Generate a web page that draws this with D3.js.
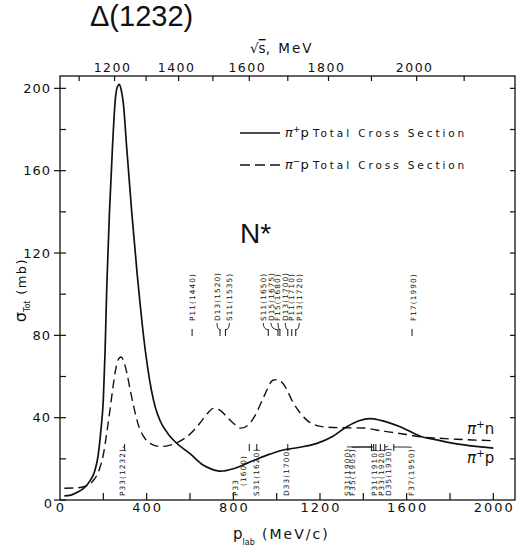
<!DOCTYPE html>
<html>
<head>
<meta charset="utf-8">
<script src="https://cdn.jsdelivr.net/npm/d3@7"></script>
<style>
  body { margin: 0; background: #fff; }
  text { font-family: "DejaVu Sans", sans-serif; fill: #111; }
</style>
</head>
<body>
<div id="chart"></div>
<script>
(function () {

  // pi+ p total cross section (mb) vs p_lab (MeV/c)
  const piPlusP = [
    [20, 2], [50, 2.4], [80, 3.8], [110, 5.8], [140, 9.5], [160, 14], [175, 21],
    [188, 33], [200, 49], [208, 72], [216, 104], [228, 139], [242, 171], [254, 193],
    [264, 200.5], [274, 202], [283, 199], [293, 192], [308, 171], [331, 140], [356, 110],
    [370, 95], [384, 81], [405, 64], [440, 45], [462, 38.5], [500, 32], [531, 28.3],
    [600, 22.5], [660, 17], [700, 15], [740, 14], [800, 15.2], [862, 17.8], [955, 21.8],
    [1031, 24.3], [1100, 25.5], [1186, 27.5], [1260, 31], [1324, 35.6], [1380, 38.5],
    [1432, 39.5], [1480, 38.7], [1570, 35.6], [1663, 31], [1750, 29], [1817, 27.5],
    [1900, 26.3], [2000, 25.2]
  ]

  // pi- p total cross section (dashed)
  const piMinusP = [
    [20, 5.7], [60, 5.8], [100, 6.2], [125, 7], [150, 9], [170, 12], [185, 16],
    [200, 22], [215, 32], [231, 44], [246, 56], [258, 64], [270, 68.5], [282, 69.5],
    [292, 68], [308, 62], [325, 53], [339, 46], [360, 37], [385, 31], [420, 27.3],
    [462, 26], [500, 26.4], [539, 27.8], [600, 32], [647, 37.5], [680, 42], [708, 44.5],
    [740, 43.5], [770, 40.4], [800, 37.3], [835, 34.9], [870, 36.6], [900, 41],
    [940, 50], [985, 58.3], [1005, 58.5], [1030, 56.5], [1078, 47], [1139, 38.8],
    [1190, 36], [1232, 35.4], [1320, 35.1], [1401, 35], [1460, 34], [1524, 33],
    [1600, 31.8], [1663, 30.7], [1750, 30], [1832, 29.5], [1920, 29.1], [2000, 28.8]
  ]

  // axis ticks
  const yTicks = d3.range(0, 201, 20)
  const yLabels = [0, 40, 80, 120, 160, 200]
  const xTicks = d3.range(200, 2001, 200)
  const xLabels = [0, 400, 800, 1200, 1600, 2000]
  const topTicks = d3.range(1100, 2101, 100)
  const topLabels = [1200, 1400, 1600, 1800, 2000]

  // resonances (name, mass in MeV)
  const upperRes = [
    ["P11(1440)", 1440], ["D13(1520)", 1520], ["S11(1535)", 1535],
    ["S11(1650)", 1650], ["D15(1675)", 1675], ["F15(1680)", 1680],
    ["D13(1700)", 1700], ["P11(1710)", 1710], ["P13(1720)", 1720],
    ["F17(1990)", 1990]
  ]
  const lowerRes = [
    ["P33(1232)", 1232], ["P33 (1600)", 1600], ["S31(1620)", 1620],
    ["D33(1700)", 1700], ["S31(1900)", 1900], ["F35(1905)", 1905],
    ["P31(1910)", 1910], ["P33(1920)", 1920], ["D35(1930)", 1930],
    ["F37(1950)", 1950]
  ]
  // label offsets from their tick, px (layout only)
  const upperShift = [0, -3, 4, -5, -7, -2, -2.5, 0, 3.5, 1]
  const lowerShift = [-2, -13.5, 0, -1.5, -24.5, -21.7, -1.5, 1, 3.5, 18]

  const width = 520
  const height = 548
  const left = 60, right = 515, top = 76, bottom = 500

  const svg = d3.select("#chart").append("svg")
      .attr("width", width)
      .attr("height", height)

  const x = d3.scaleLinear().domain([0, 2100]).range([left, right])
  const y = d3.scaleLinear().domain([0, 206]).range([bottom, top])

  // sqrt(s) -> p_lab for pi N
  const mp = 938.27, mpi = 139.57
  function plab(W) {
    const E = (W * W - mp * mp - mpi * mpi) / (2 * mp)
    return Math.sqrt(E * E - mpi * mpi)
  }

  const ink = "#111"

  // frame
  svg.append("rect")
      .attr("x", left).attr("y", top)
      .attr("width", right - left).attr("height", bottom - top)
      .attr("fill", "none").attr("stroke", ink).attr("stroke-width", 1.3)

  // left ticks
  svg.selectAll(".yt").data(yTicks).join("line")
      .attr("x1", d => d % 40 === 0 ? left - 6 : left)
      .attr("x2", left + 6)
      .attr("y1", d => y(d)).attr("y2", d => y(d))
      .attr("stroke", ink).attr("stroke-width", 1.2)

  svg.selectAll(".yl").data(yLabels).join("text")
      .attr("x", d => d === 0 ? 53 : 51)
      .attr("y", d => y(d) + (d === 0 ? 3 : 0))
      .attr("dy", "0.36em")
      .attr("text-anchor", "end")
      .style("font-size", "13px")
      .style("letter-spacing", "1px")
      .text(d => d)

  // right ticks
  svg.selectAll(".rt").data(yTicks.filter(d => d > 0)).join("line")
      .attr("x1", right - 5).attr("x2", right)
      .attr("y1", d => y(d)).attr("y2", d => y(d))
      .attr("stroke", ink).attr("stroke-width", 1.2)

  // bottom ticks
  svg.selectAll(".xt").data(xTicks).join("line")
      .attr("x1", d => x(d)).attr("x2", d => x(d))
      .attr("y1", bottom - 7).attr("y2", bottom)
      .attr("stroke", ink).attr("stroke-width", 1.2)

  svg.selectAll(".xl").data(xLabels).join("text")
      .attr("x", d => x(d) + 1)
      .attr("y", 512)
      .attr("text-anchor", "middle")
      .style("font-size", "13px")
      .style("letter-spacing", "2px")
      .text(d => d)

  // top axis: sqrt(s)
  svg.selectAll(".tt").data(topTicks).join("line")
      .attr("x1", d => x(plab(d))).attr("x2", d => x(plab(d)))
      .attr("y1", top).attr("y2", top + 5)
      .attr("stroke", ink).attr("stroke-width", 1.2)

  svg.selectAll(".tl").data(topLabels).join("text")
      .attr("x", d => x(plab(d)) - 2)
      .attr("y", 72)
      .attr("text-anchor", "middle")
      .style("font-size", "12.5px")
      .style("letter-spacing", "1.5px")
      .text(d => d)

  const sq = svg.append("text").attr("x", 250).attr("y", 53).style("font-size", "13.5px")
  sq.append("tspan").text("\u221A")
  sq.append("tspan").style("text-decoration", "overline").text("s")
  sq.append("tspan").style("letter-spacing", "2px").text(",  MeV")

  // axis titles
  const yt = svg.append("text")
      .attr("transform", "translate(26,290) rotate(-90)")
      .attr("text-anchor", "middle")
  yt.append("tspan").style("font-size", "16px").text("\u03C3")
  yt.append("tspan").attr("dy", 4).style("font-size", "8px").text("Tot")
  yt.append("tspan").attr("dy", -4).style("font-size", "13px")
      .style("letter-spacing", "1.5px").text(" (mb)")

  const xt = svg.append("text").attr("x", 233).attr("y", 539)
  xt.append("tspan").style("font-size", "15px").text("p")
  xt.append("tspan").attr("dy", 6).style("font-size", "8px").text("lab")
  xt.append("tspan").attr("x", 262).attr("dy", -6).style("font-size", "14px")
      .style("letter-spacing", "2px").text("(MeV/c)")

  // curves
  const line = d3.line()
      .x(d => x(d[0]))
      .y(d => y(d[1]))
      .curve(d3.curveMonotoneX)

  svg.append("path").datum(piMinusP)
      .attr("d", line)
      .attr("fill", "none").attr("stroke", ink)
      .attr("stroke-width", 1.4).attr("stroke-dasharray", "9,5")

  svg.append("path").datum(piPlusP)
      .attr("d", line)
      .attr("fill", "none").attr("stroke", ink)
      .attr("stroke-width", 1.7)

  // legend
  function piLabel(g, xx, yy, sign, tail, size) {
    const t = g.append("text").attr("x", xx).attr("y", yy)
    t.append("tspan").style("font-style", "italic").style("font-size", size + "px").text("\u03C0")
    t.append("tspan").attr("dy", -size * 0.4).style("font-size", (size * 0.7) + "px").text(sign)
    t.append("tspan").attr("dy", size * 0.4).style("font-size", size + "px").text(tail)
    return t
  }

  svg.append("line").attr("x1", 240).attr("x2", 280).attr("y1", 133).attr("y2", 133)
      .attr("stroke", ink).attr("stroke-width", 1.4)
  piLabel(svg, 285, 137, "+", "p", 13)
  svg.append("text").attr("x", 313).attr("y", 137)
      .style("font-size", "10.5px").style("letter-spacing", "2.9px")
      .text("Total Cross Section")

  svg.append("line").attr("x1", 240).attr("x2", 280).attr("y1", 165).attr("y2", 165)
      .attr("stroke", ink).attr("stroke-width", 1.4).attr("stroke-dasharray", "10,5")
  piLabel(svg, 285, 169, "\u2212", "p", 13)
  svg.append("text").attr("x", 313).attr("y", 169)
      .style("font-size", "10.5px").style("letter-spacing", "2.9px")
      .text("Total Cross Section")

  // curve end labels
  piLabel(svg, 467, 434, "+", "n", 15)
  piLabel(svg, 467, 463, "+", "p", 15)

  // big annotations
  svg.append("text").attr("x", 90).attr("y", 26)
      .style("font-family", "'Liberation Sans', Arial, sans-serif")
      .style("font-size", "29px").text("\u0394(1232)")
  svg.append("text").attr("x", 240).attr("y", 243)
      .style("font-family", "'Liberation Sans', Arial, sans-serif")
      .style("font-size", "28px").text("N*")

  // resonance markers above the curves
  const resStyle = t => t.style("font-size", "7.3px").style("letter-spacing", "1.1px")

  upperRes.forEach((r, i) => {
    const tx = x(plab(r[1]))
    const lx = tx + upperShift[i]
    svg.append("line").attr("x1", tx).attr("x2", tx).attr("y1", 329).attr("y2", 336)
        .attr("stroke", ink).attr("stroke-width", 1)
    if (Math.abs(upperShift[i]) > 1.5) {
      svg.append("path")
          .attr("d", `M${lx},323 Q${lx},329 ${tx},330`)
          .attr("fill", "none").attr("stroke", ink).attr("stroke-width", 0.9)
    }
    svg.append("text")
        .attr("transform", `translate(${lx},321) rotate(-90)`)
        .attr("dy", "0.35em")
        .call(resStyle)
        .text(r[0])
  })

  // resonance markers below the curves
  lowerRes.forEach((r, i) => {
    const tx = x(plab(r[1]))
    const lx = tx + lowerShift[i]
    svg.append("line").attr("x1", tx).attr("x2", tx).attr("y1", 444).attr("y2", 451)
        .attr("stroke", ink).attr("stroke-width", 1)
    const parts = r[0].split(" ")
    let topY = 496
    parts.forEach((p, j) => {
      const t = svg.append("text")
          .attr("transform", `translate(${lx + j * 7.6},${496 - j * 10}) rotate(-90)`)
          .attr("dy", "0.35em")
          .call(resStyle)
          .text(p)
      topY = Math.min(topY, 496 - j * 10 - t.node().getComputedTextLength())
    })
    if (parts.length === 1 && Math.abs(lowerShift[i]) > 1.5) {
      svg.append("path")
          .attr("d", `M${lx},${topY - 1} Q${lx},447 ${tx},447`)
          .attr("fill", "none").attr("stroke", ink).attr("stroke-width", 0.9)
    }
  })

})();
</script>
</body>
</html>
